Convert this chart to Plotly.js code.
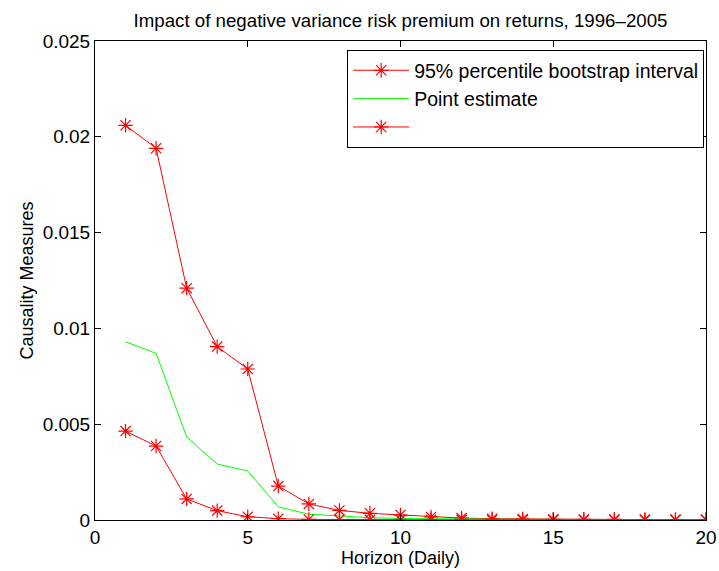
<!DOCTYPE html>
<html>
<head>
<meta charset="utf-8">
<script src="https://cdn.plot.ly/plotly-3.0.1.min.js"></script>
<style>
  html, body { margin: 0; padding: 0; background: white; }
  #chart { width: 719px; height: 571px; }
</style>
</head>
<body>
<div id="chart"></div>
<script>
// horizon (days)
const horizon = [1, 2, 3, 4, 5, 6, 7, 8, 9, 10, 11, 12, 13, 14, 15, 16, 17, 18, 19, 20];

// upper bound of the 95% bootstrap interval
const upperBound = [0.0206, 0.0194, 0.0121, 0.00905, 0.00788, 0.00177, 0.00084, 0.0005, 0.00035, 0.00026,
    0.00016, 0.0001, 0.00007, 0.00005, 0.00004, 0.00003, 0.00003, 0.00002, 0.00002, 0.00002];

// point estimate
const pointEstimate = [0.0093, 0.0087, 0.00433, 0.00292, 0.00256, 0.00068, 0.0003, 0.0002, 0.00012, 0.00008,
    0.00006, 0.00005, 0.00004, 0.00003, 0.00003, 0.00002, 0.00002, 0.00002, 0.00002, 0.00002];

// lower bound of the 95% bootstrap interval
const lowerBound = [0.00464, 0.00386, 0.0011, 0.00049, 0.00017, 0.00007, 0.00003, 0.00002, 0.00001, 0.00001,
    0.00001, 0.00001, 0.00001, 0.00001, 0.00001, 0.00001, 0.00001, 0.00001, 0.00001, 0.00001];

const xTicks = [0, 5, 10, 15, 20];
const yTicks = [0, 0.005, 0.01, 0.015, 0.02, 0.025];
const yTickText = ['0', '0.005', '0.01', '0.015', '0.02', '0.025'];

const red = '#ff0000';
const green = '#00ff00';

const starMarker = {
    symbol: 'asterisk-open',
    size: 12,
    color: red,
    line: { color: red, width: 1.2 }
};

const traces = [
    {
        x: horizon,
        y: upperBound,
        type: 'scatter',
        mode: 'lines+markers',
        name: '95% percentile bootstrap interval',
        line: { color: red, width: 1 },
        marker: starMarker
    },
    {
        x: horizon,
        y: pointEstimate,
        type: 'scatter',
        mode: 'lines',
        name: 'Point estimate',
        line: { color: green, width: 1 }
    },
    {
        x: horizon,
        y: lowerBound,
        type: 'scatter',
        mode: 'lines+markers',
        name: ' ',
        line: { color: red, width: 1 },
        marker: starMarker
    }
];

const axisCommon = {
    showline: true,
    linecolor: 'black',
    linewidth: 1,
    mirror: 'ticks',
    ticks: 'inside',
    ticklen: 6,
    tickcolor: 'black',
    showgrid: false,
    zeroline: false,
    tickfont: { size: 19, color: 'black' }
};

const layout = {
    width: 719,
    height: 571,
    paper_bgcolor: 'white',
    plot_bgcolor: 'white',
    font: { family: 'Liberation Sans, Arial, sans-serif', color: 'black' },
    margin: { l: 95, r: 13, t: 41, b: 51 },
    title: {
        text: 'Impact of negative variance risk premium on returns, 1996\u20132005',
        font: { size: 18.7 },
        xref: 'paper',
        x: 0.5,
        xanchor: 'center',
        y: 0.965,
        yanchor: 'middle'
    },
    xaxis: Object.assign({}, axisCommon, {
        range: [0, 20],
        tickvals: xTicks,
        title: { text: 'Horizon (Daily)', font: { size: 18 }, standoff: 2 }
    }),
    yaxis: Object.assign({}, axisCommon, {
        range: [0, 0.025],
        tickvals: yTicks,
        ticktext: yTickText,
        title: { text: 'Causality Measures', font: { size: 18 }, standoff: 4 }
    }),
    showlegend: true,
    legend: {
        x: 0.997,
        xanchor: 'right',
        y: 0.981,
        yanchor: 'top',
        bgcolor: 'white',
        bordercolor: 'black',
        borderwidth: 1,
        font: { size: 19.5 },
        tracegroupgap: 0,
        itemwidth: 56
    }
};

Plotly.newPlot('chart', traces, layout, { displayModeBar: false, staticPlot: true });
</script>
</body>
</html>
